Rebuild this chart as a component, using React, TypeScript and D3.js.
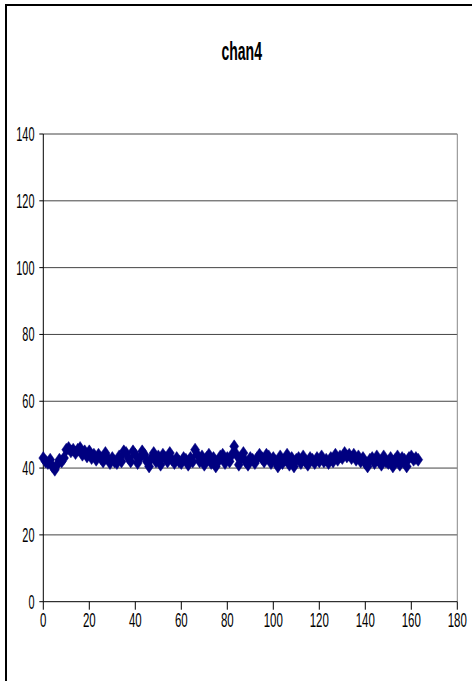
import React from "react";
import * as d3 from "d3";

const title = "chan4";
const xTicks = [0, 20, 40, 60, 80, 100, 120, 140, 160, 180];
const yTicks = [0, 20, 40, 60, 80, 100, 120, 140];
const values = [
  43, 42, 41.5, 42.5, 40.5, 39.5, 41, 42.5, 42, 43,
  45.5, 46, 45, 45.5, 44.5, 45.5, 46, 44, 45, 43.5,
  45, 43, 44, 42.5, 44, 43, 42, 44.5, 43, 41.5,
  43, 42, 41.5, 43.5, 42, 45, 44.5, 43, 42, 45,
  44, 41.5, 43, 45, 44, 42, 40.5, 43, 44.5, 42,
  43.5, 41, 44, 43, 42, 44.5, 42.5, 41.5, 43, 42,
  41.5, 43, 42.5, 41, 43, 42, 45.5, 44, 42, 43.5,
  41, 43, 44, 41.5, 43, 40.5, 42, 43.5, 44, 41.5,
  43, 42, 44, 46.5, 44, 41, 43, 44.5, 42, 41,
  43, 42.5, 41.5, 43, 44, 43, 42, 44, 43.5, 41.5,
  43, 42, 40.5, 43.5, 41.5, 42.5, 44, 41, 43, 40.5,
  42.5, 43, 41.5, 43.5, 42, 41, 43, 42.5, 41.5, 43,
  42, 43.5, 42, 42.5, 41.5, 43, 42, 44, 42.5, 43.5,
  43, 44.5, 43.5, 44, 43, 44, 42.5, 43.5, 42, 43,
  41.5, 40.5, 42.5, 43, 41.5, 43.5, 42, 41, 43.5, 42,
  41.5, 43, 40.5, 42.5, 43.5, 41, 43, 42.5, 40.5, 43,
  43.5, 42.5, 43, 42.5,
];

const W = 472;
const H = 681;
const SX = 0.56;

export default function App() {
  const x = d3.scaleLinear().domain([0, 180]).range([43.3, 457.3]);
  const y = d3.scaleLinear().domain([0, 140]).range([601.7, 134]);
  const pts = values.map((v, i) => [x(i), y(v)] as [number, number]);
  const line = d3.line<[number, number]>().x((d) => d[0]).y((d) => d[1])(pts) || "";
  const diamond = (cx: number, cy: number) =>
    `M${cx},${cy - 6.5}L${cx + 4.5},${cy}L${cx},${cy + 6.5}L${cx - 4.5},${cy}Z`;
  return (
    <svg
      width={W}
      height={H}
      style={{ position: "absolute", left: 0, top: 0, background: "#fff" }}
      fontFamily="'Liberation Sans', Arial, sans-serif"
    >
      <rect x={0} y={0} width={W} height={H} fill="#fff" />
      <rect x={6} y={5} width={W + 10} height={H + 10} fill="none" stroke="#000" strokeWidth={2} />
      <text
        transform={`translate(${241.7},${60}) scale(0.55,1)`}
        textAnchor="middle"
        fontWeight="bold"
        fontSize={25.5}
        fill="#000"
      >
        {title}
      </text>
      {yTicks.slice(1).map((t) => (
        <line key={"g" + t} x1={x(0)} x2={x(180)} y1={y(t)} y2={y(t)} stroke="#444" strokeWidth={1} />
      ))}
      <line x1={x(180)} x2={x(180)} y1={y(140)} y2={y(0)} stroke="#888" strokeWidth={1} />
      <line x1={x(0)} x2={x(0)} y1={y(140)} y2={y(0)} stroke="#000" strokeWidth={1} />
      <line x1={x(0)} x2={x(180)} y1={y(0)} y2={y(0)} stroke="#000" strokeWidth={1} />
      {yTicks.map((t) => (
        <g key={"y" + t}>
          <line x1={x(0) - 4} x2={x(0)} y1={y(t)} y2={y(t)} stroke="#000" />
          <text
            transform={`translate(${34.5},${y(t) + 7}) scale(${SX},1)`}
            textAnchor="end"
            fontSize={19.5}
            fill="#000"
          >
            {t}
          </text>
        </g>
      ))}
      {xTicks.map((t) => (
        <g key={"x" + t}>
          <line x1={x(t)} x2={x(t)} y1={y(0)} y2={y(0) + 8} stroke="#000" />
          <text
            transform={`translate(${x(t)},${626.5}) scale(${SX},1)`}
            textAnchor="middle"
            fontSize={20.5}
            fill="#000"
          >
            {t}
          </text>
        </g>
      ))}
      <path d={line} fill="none" stroke="#000080" strokeWidth={3} strokeLinejoin="round" />
      {pts.map((p, i) => (
        <path key={i} d={diamond(p[0], p[1])} fill="#000080" stroke="#000080" strokeWidth={0.5} />
      ))}
    </svg>
  );
}
